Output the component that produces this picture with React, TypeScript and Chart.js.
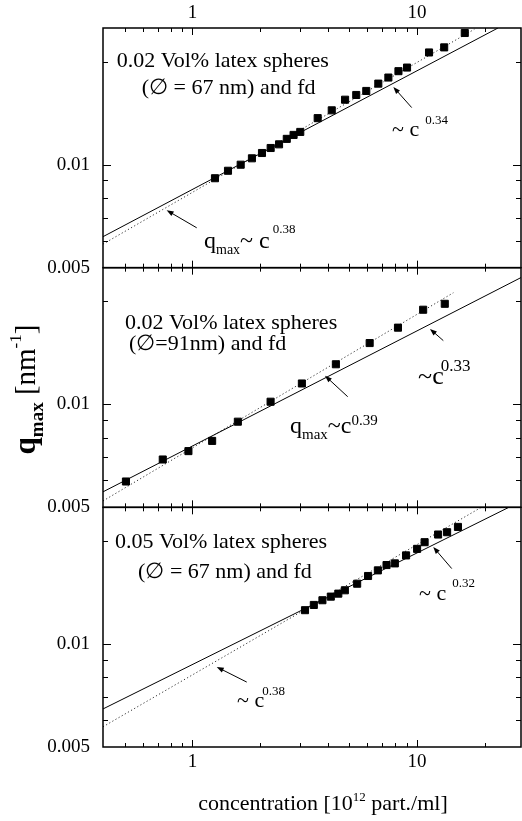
import React, { useEffect, useRef } from 'react';
import { Chart, registerables } from 'chart.js';

Chart.register(...registerables);

const FONT = '"Liberation Serif", "Times New Roman", serif';

// ---- axes ----
const X_MIN = 0.4;
const X_MAX = 29;
const Y_MIN = 0.005;
const Y_MAX = 0.0251;
const X_TICK_VALUES = [1, 10];
const X_TICK_LABELS = ['1', '10'];
const X_MINOR_TICKS = [0.5, 0.6, 0.7, 0.8, 0.9, 2, 3, 4, 5, 6, 7, 8, 9, 20];
const Y_TICK_VALUES = [0.005, 0.01];
const Y_TICK_LABELS = ['0.005', '0.01'];
const Y_MAJOR_TICKS = [0.01];
const Y_MINOR_TICKS = [0.006, 0.007, 0.008, 0.009, 0.02];

// ---- panel A (top): 0.02 Vol%, 67 nm ----
const concA = [1.26, 1.44, 1.64, 1.84, 2.04, 2.23, 2.43, 2.63, 2.82, 3.02, 3.61, 4.17, 4.78, 5.36, 5.94, 6.72, 7.45, 8.26, 9.02, 11.3, 13.2, 16.3];
const qA = [0.00913, 0.0096, 0.01, 0.01044, 0.01082, 0.01119, 0.01147, 0.0119, 0.01222, 0.01247, 0.01368, 0.01442, 0.01549, 0.01599, 0.01643, 0.01726, 0.01798, 0.01877, 0.01923, 0.02129, 0.02203, 0.02427];
const fitA_solid_c = [0.4, 22.9];
const fitA_solid_q = [0.00616, 0.0251];
const fitA_dot_c = [0.4, 18];
const fitA_dot_q = [0.00586, 0.0249];

// ---- panel B (middle): 0.02 Vol%, 91 nm ----
const concB = [0.506, 0.738, 0.96, 1.224, 1.593, 2.228, 3.07, 4.35, 6.15, 8.22, 10.64, 13.28];
const qB = [0.00595, 0.0069, 0.0073, 0.00782, 0.0089, 0.01018, 0.01151, 0.0131, 0.01511, 0.01676, 0.01891, 0.01968];
const fitB_solid_c = [0.4, 29];
const fitB_solid_q = [0.00555, 0.02348];
const fitB_dot_c = [0.4, 14.5];
const fitB_dot_q = [0.00522, 0.0212];

// ---- panel C (bottom): 0.05 Vol%, 67 nm ----
const concC = [3.17, 3.47, 3.79, 4.13, 4.46, 4.77, 5.41, 6.05, 6.69, 7.31, 7.96, 8.93, 10.0, 10.8, 12.4, 13.6, 15.2];
const qC = [0.01256, 0.01301, 0.01343, 0.01376, 0.01404, 0.01436, 0.01501, 0.01581, 0.01642, 0.01702, 0.01721, 0.01816, 0.01898, 0.01985, 0.0209, 0.02123, 0.022];
const fitC_solid_c = [0.4, 25.6];
const fitC_solid_q = [0.00646, 0.0251];
const fitC_dot_c = [0.4, 19.3];
const fitC_dot_q = [0.00573, 0.0251];

// ---- annotations (data coordinates) ----
type Run = { t: string; size: number; bold?: boolean; dy?: number; gap?: number };
type Label = { c: number; q: number; runs: Run[] };

const LABELS_A: Label[] = [
  { c: 0.46, q: 0.01932, runs: [{ t: '0.02 Vol% latex spheres', size: 22 }] },
  { c: 0.595, q: 0.0161, runs: [{ t: '(\u2205 = 67 nm) and fd', size: 22 }] },
  { c: 7.73, q: 0.01213, runs: [{ t: '~ c', size: 22 }, { t: '0.34', size: 13, dy: -12, gap: 6 }] },
  { c: 1.126, q: 0.00571, runs: [{ t: 'q', size: 24 }, { t: 'max', size: 14, dy: 6 }, { t: '~ c', size: 24 }, { t: '0.38', size: 13, dy: -15, gap: 3 }] },
];
const LABELS_B: Label[] = [
  { c: 0.501, q: 0.01666, runs: [{ t: '0.02 Vol% latex spheres', size: 22 }] },
  { c: 0.522, q: 0.01443, runs: [{ t: '(\u2205=91nm) and fd', size: 22 }] },
  { c: 10.1, q: 0.0115, runs: [{ t: '~c', size: 26 }, { t: '0.33', size: 17, dy: -13, gap: -3 }] },
  { c: 2.719, q: 0.00822, runs: [{ t: 'q', size: 24 }, { t: 'max', size: 15, dy: 6 }, { t: '~c', size: 24 }, { t: '0.39', size: 15, dy: -8, gap: 0 }] },
];
const LABELS_C: Label[] = [
  { c: 0.452, q: 0.01906, runs: [{ t: '0.05 Vol% latex spheres', size: 22 }] },
  { c: 0.573, q: 0.01564, runs: [{ t: '(\u2205 = 67 nm) and fd', size: 22 }] },
  { c: 10.2, q: 0.01343, runs: [{ t: '~ c', size: 22 }, { t: '0.32', size: 13, dy: -13, gap: 6 }] },
  { c: 1.58, q: 0.00654, runs: [{ t: '~ c', size: 22 }, { t: '0.38', size: 13, dy: -12, gap: -2 }] },
];

// arrows: [tail c, tail q, head c, head q]
const ARROWS_A = [[9.46, 0.01469, 7.84, 0.01688], [1.045, 0.00654, 0.768, 0.00736]];
const ARROWS_B = [[13.08, 0.01536, 11.41, 0.01662], [4.91, 0.01053, 3.89, 0.01213]];
const ARROWS_C = [[14.26, 0.01662, 11.8, 0.01922], [1.745, 0.00774, 1.283, 0.00857]];

const PANELS = [
  { id: 'yA', labels: LABELS_A, arrows: ARROWS_A },
  { id: 'yB', labels: LABELS_B, arrows: ARROWS_B },
  { id: 'yC', labels: LABELS_C, arrows: ARROWS_C },
];

const pts = (cs: number[], qs: number[]) => cs.map((c, i) => ({ x: c, y: qs[i] }));

function drawRuns(ctx: CanvasRenderingContext2D, x: number, y: number, runs: Run[], measureOnly = false) {
  let cx = x;
  for (const r of runs) {
    cx += r.gap ?? 0;
    ctx.font = `${r.bold ? 'bold ' : ''}${r.size}px ${FONT}`;
    if (!measureOnly) ctx.fillText(r.t, cx, y + (r.dy ?? 0));
    cx += ctx.measureText(r.t).width;
  }
  return cx - x;
}

function drawArrow(ctx: CanvasRenderingContext2D, x1: number, y1: number, x2: number, y2: number) {
  const a = Math.atan2(y2 - y1, x2 - x1);
  const hl = 7;
  const hw = 2.6;
  const cos = Math.cos(a);
  const sin = Math.sin(a);
  ctx.lineWidth = 1;
  ctx.beginPath();
  ctx.moveTo(x1, y1);
  ctx.lineTo(x2 - cos * hl * 0.7, y2 - sin * hl * 0.7);
  ctx.stroke();
  ctx.beginPath();
  ctx.moveTo(x2, y2);
  ctx.lineTo(x2 - hl * cos + hw * sin, y2 - hl * sin - hw * cos);
  ctx.lineTo(x2 - hl * cos - hw * sin, y2 - hl * sin + hw * cos);
  ctx.closePath();
  ctx.fill();
}

const decorPlugin = {
  id: 'decor',
  afterDraw(chart: any) {
    const ctx: CanvasRenderingContext2D = chart.ctx;
    const xs = chart.scales.x;
    ctx.save();
    ctx.strokeStyle = '#000';
    ctx.fillStyle = '#000';
    ctx.textBaseline = 'alphabetic';
    ctx.textAlign = 'left';
    for (const p of PANELS) {
      const ys = chart.scales[p.id];
      const l = xs.left;
      const r = xs.right;
      const t = ys.top;
      const b = ys.bottom;
      // tick marks (inward, all four sides)
      ctx.lineWidth = 1;
      ctx.beginPath();
      const xt = (v: number, len: number) => {
        const px = Math.round(xs.getPixelForValue(v)) + 0.5;
        ctx.moveTo(px, t); ctx.lineTo(px, t + len);
        ctx.moveTo(px, b); ctx.lineTo(px, b - len);
      };
      const yt = (v: number, len: number) => {
        const py = Math.round(ys.getPixelForValue(v)) + 0.5;
        ctx.moveTo(l, py); ctx.lineTo(l + len, py);
        ctx.moveTo(r, py); ctx.lineTo(r - len, py);
      };
      X_TICK_VALUES.forEach((v) => xt(v, 7));
      X_MINOR_TICKS.forEach((v) => xt(v, 4));
      Y_MAJOR_TICKS.forEach((v) => yt(v, 8));
      Y_MINOR_TICKS.forEach((v) => yt(v, 5));
      ctx.stroke();
      // frame
      ctx.lineWidth = 1.5;
      ctx.strokeRect(l, t, r - l, b - t);
      // labels
      for (const lab of p.labels) {
        const px = xs.getPixelForValue(lab.c);
        const py = ys.getPixelForValue(lab.q);
        drawRuns(ctx, px, py, lab.runs);
      }
      // arrows
      for (const a of p.arrows) {
        drawArrow(ctx, xs.getPixelForValue(a[0]), ys.getPixelForValue(a[1]), xs.getPixelForValue(a[2]), ys.getPixelForValue(a[3]));
      }
    }
    // x axis title
    const xRuns: Run[] = [
      { t: 'concentration [10', size: 22 },
      { t: '12', size: 13, dy: -9 },
      { t: ' part./ml]', size: 22 },
    ];
    const xw = drawRuns(ctx, 0, 0, xRuns, true);
    const xc = (xs.left + xs.right) / 2;
    drawRuns(ctx, xc - xw / 2 + 11, 810, xRuns);
    // y axis title (rotated)
    const yB = chart.scales.yB;
    const yRuns: Run[] = [
      { t: 'q', size: 31, bold: true },
      { t: 'max', size: 19, bold: true, dy: 8 },
      { t: ' [nm', size: 29 },
      { t: '-1', size: 17, dy: -14 },
      { t: ']', size: 29 },
    ];
    const yw = drawRuns(ctx, 0, 0, yRuns, true);
    ctx.translate(35, (yB.top + yB.bottom) / 2 + 2);
    ctx.rotate(-Math.PI / 2);
    drawRuns(ctx, -yw / 2, 0, yRuns);
    ctx.restore();
  },
};

const tickFont = { family: FONT, size: 19 };

const xLabel = (v: any) => {
  const i = X_TICK_VALUES.indexOf(Number(v));
  return i >= 0 ? X_TICK_LABELS[i] : '';
};
const yLabel = (v: any) => {
  const i = Y_TICK_VALUES.indexOf(Number(v));
  return i >= 0 ? Y_TICK_LABELS[i] : '';
};

const yScale = () => ({
  type: 'logarithmic' as const,
  position: 'left' as const,
  stack: 'panels',
  stackWeight: 1,
  min: Y_MIN,
  max: Y_MAX,
  grid: { display: false, drawTicks: false },
  border: { display: false },
  ticks: { font: tickFont, color: '#000', padding: 13, autoSkip: false, callback: yLabel },
  afterBuildTicks: (s: any) => { s.ticks = Y_TICK_VALUES.map((v) => ({ value: v })); },
  afterFit: (s: any) => { s.width = 103; s.paddingTop = 0; s.paddingBottom = 0; },
});

const xScale = (pos: 'top' | 'bottom', h: number) => ({
  type: 'logarithmic' as const,
  position: pos,
  min: X_MIN,
  max: X_MAX,
  grid: { display: false, drawTicks: false },
  border: { display: false },
  ticks: { font: tickFont, color: '#000', padding: 4, maxRotation: 0, autoSkip: false, callback: xLabel },
  afterBuildTicks: (s: any) => { s.ticks = X_TICK_VALUES.map((v) => ({ value: v })); },
  afterFit: (s: any) => { s.height = h; s.paddingLeft = 0; s.paddingRight = 0; },
});

const pointDs = (cs: number[], qs: number[], yAxisID: string) => ({
  data: pts(cs, qs),
  yAxisID,
  xAxisID: 'x',
  pointStyle: 'rect' as const,
  pointRadius: 5,
  pointBorderWidth: 1,
  pointBackgroundColor: '#000',
  pointBorderColor: '#000',
  showLine: false,
});
const solidDs = (cs: number[], qs: number[], yAxisID: string) => ({
  data: pts(cs, qs),
  yAxisID,
  xAxisID: 'x',
  showLine: true,
  pointRadius: 0,
  borderColor: '#000',
  borderWidth: 1,
});
const dotDs = (cs: number[], qs: number[], yAxisID: string) => ({
  data: pts(cs, qs),
  yAxisID,
  xAxisID: 'x',
  showLine: true,
  pointRadius: 0,
  borderColor: '#333',
  borderWidth: 1,
  borderDash: [1.2, 2.4],
});

export default function App() {
  const ref = useRef<HTMLCanvasElement>(null);
  useEffect(() => {
    const canvas = ref.current;
    if (!canvas) return;
    const chart = new Chart(canvas, {
      type: 'scatter',
      data: {
        datasets: [
          pointDs(concA, qA, 'yA'),
          pointDs(concB, qB, 'yB'),
          pointDs(concC, qC, 'yC'),
          solidDs(fitA_solid_c, fitA_solid_q, 'yA'),
          dotDs(fitA_dot_c, fitA_dot_q, 'yA'),
          solidDs(fitB_solid_c, fitB_solid_q, 'yB'),
          dotDs(fitB_dot_c, fitB_dot_q, 'yB'),
          solidDs(fitC_solid_c, fitC_solid_q, 'yC'),
          dotDs(fitC_dot_c, fitC_dot_q, 'yC'),
        ] as any,
      },
      options: {
        responsive: false,
        devicePixelRatio: 1,
        animation: false,
        layout: { autoPadding: false, padding: { left: 0, right: 1, top: 0, bottom: 0 } },
        plugins: { legend: { display: false }, tooltip: { enabled: false } },
        scales: {
          x: xScale('bottom', 74),
          xTop: xScale('top', 28),
          yC: yScale(),
          yB: yScale(),
          yA: yScale(),
        } as any,
      },
      plugins: [decorPlugin],
    });
    return () => chart.destroy();
  }, []);
  return (
    <div style={{ position: 'absolute', left: 0, top: 0, width: 522, height: 821, background: '#fff' }}>
      <canvas ref={ref} width={522} height={821} style={{ display: 'block', width: 522, height: 821 }} />
    </div>
  );
}
